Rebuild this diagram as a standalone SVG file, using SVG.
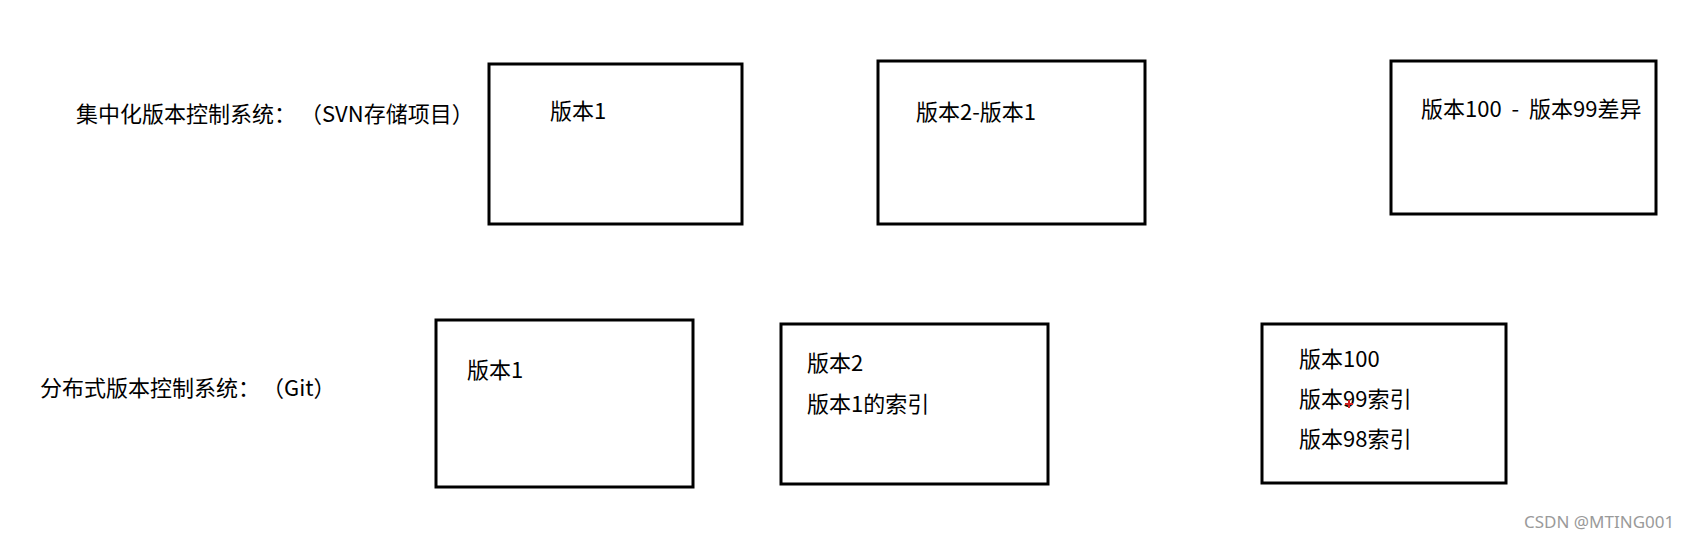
<svg xmlns="http://www.w3.org/2000/svg" width="1703" height="539" viewBox="0 0 1703 539">
<style>
.bg{fill:#ffffff}
.box{fill:#ffffff;stroke:#000000;stroke-width:3}
.t{font-family:"Noto Sans CJK SC","Noto Sans",sans-serif;font-size:22px;fill:#000000;dominant-baseline:central}
.wm{font-family:"Noto Sans","Liberation Sans",sans-serif;font-size:17px;fill:#9a9a9a;dominant-baseline:central}
</style>
<rect class="bg" x="0" y="0" width="1703" height="539"/>
<g id="label-central"><text class="t" x="76" y="112">集中化版本控制系统：</text><text class="t" x="300" y="112">（SVN存储项目）</text></g>
<g id="label-distributed"><text class="t" x="40" y="386">分布式版本控制系统：</text><text class="t" x="262" y="386">（Git）</text></g>
<g id="svn-v1"><rect class="box" x="489" y="64" width="253" height="160"/><text class="t" x="550" y="109">版本1</text></g>
<g id="svn-v2"><rect class="box" x="878" y="61" width="267" height="163"/><text class="t" x="916" y="110">版本2-版本1</text></g>
<g id="svn-v100"><rect class="box" x="1391" y="61" width="265" height="153"/><text class="t" x="1421" y="107" style="word-spacing:5px">版本100 - 版本99差异</text></g>
<g id="git-v1"><rect class="box" x="436" y="320" width="257" height="167"/><text class="t" x="467" y="368">版本1</text></g>
<g id="git-v2"><rect class="box" x="781" y="324" width="267" height="160"/><text class="t" x="807" y="361">版本2</text><text class="t" x="807" y="402">版本1的索引</text></g>
<g id="git-v100"><rect class="box" x="1262" y="324" width="244" height="159"/><text class="t" x="1299" y="357">版本100</text><text class="t" x="1299" y="397">版本99索引</text><text class="t" x="1299" y="437">版本98索引</text></g>
<g id="connectors"></g>
<g id="cursor"><path d="M1349 400 V408 M1345 404 H1353" stroke="#d02020" stroke-width="2"/></g>
<g id="watermark"><text class="wm" x="1524" y="521">CSDN @MTING001</text></g>
</svg>
